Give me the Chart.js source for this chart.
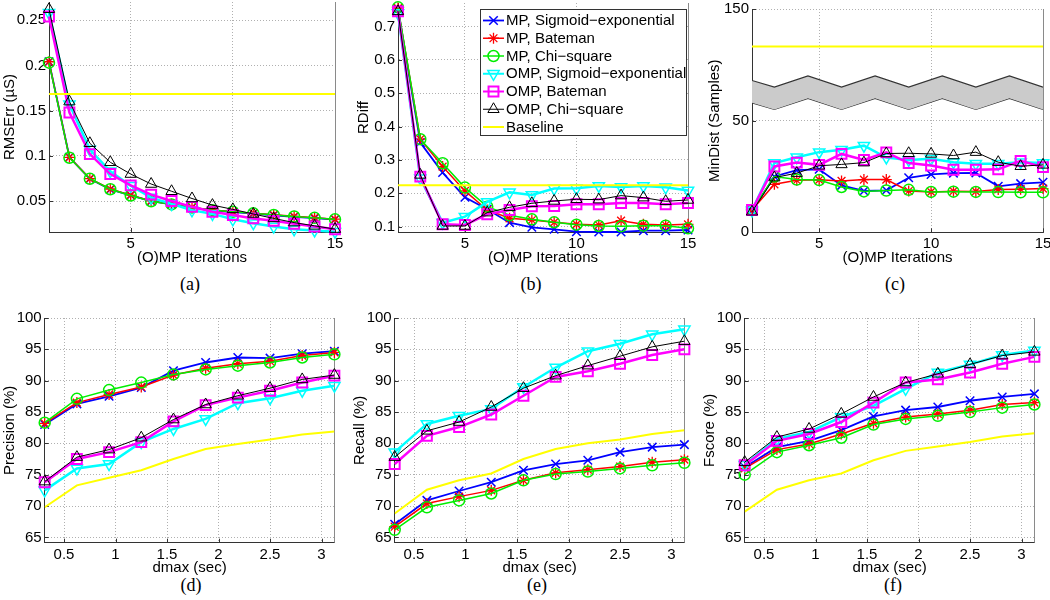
<!DOCTYPE html>
<html><head><meta charset="utf-8">
<script src="https://cdn.jsdelivr.net/npm/chart.js@4.4.1/dist/chart.umd.min.js"></script>
<style>
html,body{margin:0;padding:0;width:1050px;height:600px;overflow:hidden;background:#fff;position:relative}
canvas{position:absolute}
.cap{position:absolute;font-family:"Liberation Serif","Times New Roman",serif;font-size:18px;transform:translate(-50%,-50%);white-space:nowrap;color:#000}
</style></head><body>
<div class="cap" style="left:190px;top:284px">(a)</div>
<div class="cap" style="left:531px;top:284px">(b)</div>
<div class="cap" style="left:895px;top:284px">(c)</div>
<div class="cap" style="left:191px;top:585px">(d)</div>
<div class="cap" style="left:537px;top:585px">(e)</div>
<div class="cap" style="left:893px;top:585px">(f)</div>
<script>
// ---------------- DATA ----------------
const seriesLabels = ['MP, Sigmoid\u2212exponential','MP, Bateman','MP, Chi\u2212square','OMP, Sigmoid\u2212exponential','OMP, Bateman','OMP, Chi\u2212square'];
const baselineLabel = 'Baseline';

const iterA = [1,2,3,4,5,6,7,8,9,10,11,12,13,14,15];
const iterBC = [2,3,4,5,6,7,8,9,10,11,12,13,14,15];
const dmax = [0.3125,0.625,0.9375,1.25,1.5625,1.875,2.1875,2.5,2.8125,3.125];

// (a) RMSErr
const rmseMPSig  = [0.204,0.0985,0.0748,0.063,0.0565,0.050,0.0465,0.043,0.040,0.038,0.0363,0.0345,0.0328,0.0313,0.0298];
const rmseMPBat  = [0.204,0.0985,0.075,0.0635,0.0567,0.0503,0.0467,0.0432,0.0403,0.0385,0.0367,0.035,0.0333,0.0318,0.0302];
const rmseMPChi  = [0.203,0.098,0.0748,0.0632,0.0563,0.0500,0.0465,0.0430,0.0401,0.0384,0.0366,0.0348,0.0331,0.0316,0.0300];
const rmseOMPSig = [0.258,0.157,0.107,0.083,0.067,0.054,0.047,0.040,0.036,0.030,0.0257,0.022,0.019,0.0177,0.0163];
const rmseOMPBat = [0.254,0.148,0.102,0.080,0.0675,0.0573,0.0503,0.0438,0.0384,0.0348,0.031,0.0283,0.025,0.022,0.019];
const rmseOMPChi = [0.262,0.160,0.114,0.093,0.080,0.069,0.061,0.053,0.0457,0.041,0.0359,0.031,0.0264,0.0228,0.0192];
const rmseBaseline = 0.1685;

// (b) RDiff
const rdiffMPSig  = [0.752,0.352,0.262,0.188,0.152,0.112,0.098,0.092,0.085,0.084,0.084,0.088,0.088,0.090];
const rdiffMPBat  = [0.755,0.362,0.28,0.207,0.15,0.125,0.12,0.113,0.107,0.105,0.118,0.107,0.105,0.107];
const rdiffMPChi  = [0.757,0.362,0.29,0.217,0.16,0.134,0.122,0.113,0.106,0.102,0.101,0.103,0.103,0.095];
const rdiffOMPSig = [0.74,0.245,0.112,0.13,0.174,0.203,0.195,0.214,0.215,0.222,0.219,0.222,0.218,0.208];
const rdiffOMPBat = [0.745,0.25,0.107,0.105,0.137,0.15,0.161,0.162,0.167,0.167,0.171,0.171,0.167,0.171];
const rdiffOMPChi = [0.745,0.255,0.102,0.102,0.142,0.158,0.17,0.177,0.182,0.181,0.193,0.187,0.176,0.18];
const rdiffBaseline = 0.224;

// (c) MinDist (axis is broken above 50: shown value 100 is labelled 150)
const minMPSig  = [9.5,25,27.8,28.2,21,18.5,18.8,24.4,25.9,26.5,26.6,20.6,21.8,22.4];
const minMPBat  = [10,21.5,23.3,23.5,23,23.6,23.6,18.5,18.1,18.4,18.3,19.2,19.3,19.6];
const minMPChi  = [10,25,23.6,23.4,20.3,18.3,18.7,19,18.1,18.2,18.1,18,17.9,17.9];
const minOMPSig = [9.8,31,33.6,35.9,37,38.8,33.5,32.4,32.9,31.4,30.7,30.7,31.4,31];
const minOMPBat = [10,29.5,31.2,30.2,35.1,32.4,35.8,31,29.9,28,28,28.2,32,29.2];
const minOMPChi = [9.2,24.5,26.5,29.8,30.4,31.2,35.3,35.4,35.1,34.4,35.9,31.4,29.6,30.2];
const minBaseline = 83.2;
const breakX    = [2,3,4.5,6,7.5,9,10.5,12,13.5,15];
const breakLow  = [58,55,60,55,60,55,60,55,60,55];
const breakHigh = [68,65,70,65,70,65,70,65,70,65];

// (d) Precision
const precMPSig  = [83.0,86.3,87.5,88.9,91.6,92.9,93.7,93.6,94.3,94.7];
const precMPBat  = [83.2,86.5,87.8,89.0,90.9,92.0,92.7,93.1,94.0,94.5];
const precMPChi  = [83.3,87.1,88.5,89.7,91.0,91.8,92.4,92.9,93.7,94.2];
const precOMPSig = [72.5,76.0,76.7,80.2,82.3,83.9,86.4,87.2,88.4,89.2];
const precOMPBat = [73.8,77.5,78.6,80.2,83.5,86.1,87.3,88.4,89.7,90.8];
const precOMPChi = [73.9,77.8,79.0,80.9,83.8,86.2,87.6,88.8,90.2,90.9];
const precBaseline = [69.8,73.3,74.5,75.7,77.5,79.1,79.9,80.6,81.4,81.9];

// (e) Recall
const recMPSig  = [67.1,70.9,72.4,73.8,75.7,76.7,77.3,78.6,79.4,79.8];
const recMPBat  = [66.7,70.4,71.5,72.5,74.1,75.3,75.8,76.3,77.0,77.4];
const recMPChi  = [66.2,69.8,70.9,72.0,74.1,75.1,75.5,76.0,76.5,76.9];
const recOMPSig = [78.6,83.1,84.4,85.5,89.0,92.1,94.7,95.9,97.4,98.2];
const recOMPBat = [76.7,81.2,82.6,84.6,87.6,90.6,91.5,92.7,94.1,95.0];
const recOMPChi = [77.8,82.0,83.4,85.8,88.8,90.8,92.4,93.9,95.4,96.3];
const recBaseline = [68.8,72.6,74.1,75.2,77.5,79.1,80.0,80.6,81.5,82.1];

// (f) Fscore
const fMPSig  = [76.2,79.4,80.4,82.1,84.3,85.3,85.8,86.8,87.4,87.9];
const fMPBat  = [76.0,79.0,79.9,81.5,83.2,84.2,84.7,85.3,86.2,86.5];
const fMPChi  = [75.0,78.6,79.7,80.9,83.0,83.9,84.4,85.0,85.7,86.2];
const fOMPSig = [76.6,80.7,81.8,84.2,86.0,88.7,91.3,92.6,94.1,94.8];
const fOMPBat = [76.5,80.4,81.5,83.4,86.5,89.7,90.2,91.3,92.7,93.8];
const fOMPChi = [77.0,81.0,82.3,84.7,87.4,89.7,91.1,92.6,94.0,94.6];
const fBaseline = [69.1,72.6,74.1,75.2,77.3,78.8,79.5,80.2,81.1,81.6];

// tick values / labels
const iterTicks = [5,10,15];
const iterTickLabels = ['5','10','15'];
const rmseTicks = [0.05,0.1,0.15,0.2,0.25];
const rmseTickLabels = ['0.05','0.1','0.15','0.2','0.25'];
const rdiffTicks = [0.1,0.2,0.3,0.4,0.5,0.6,0.7];
const rdiffTickLabels = ['0.1','0.2','0.3','0.4','0.5','0.6','0.7'];
const minTicks = [0,50,100];
const minTickLabels = ['0','50','150'];
const pctTicks = [65,70,75,80,85,90,95,100];
const pctTickLabels = ['65','70','75','80','85','90','95','100'];
const dmaxTicks = [0.5,1,1.5,2,2.5,3];
const dmaxTickLabels = ['0.5','1','1.5','2','2.5','3'];

// ---------------- STYLE ----------------
const FONT = '"Liberation Sans", Arial, Helvetica, sans-serif';
Chart.defaults.font.family = FONT;
Chart.defaults.font.size = 15;
Chart.defaults.color = '#000';

const STYLES = [
  {color:'#0000ff', pointStyle:'crossRot', rotation:0,   radius:6,   lw:1.8, pbw:1.5},
  {color:'#ff0000', pointStyle:'star',     rotation:0,   radius:5.5, lw:1.5, pbw:1.3},
  {color:'#00ee00', pointStyle:'circle',   rotation:0,   radius:5.5, lw:1.5, pbw:1.5},
  {color:'#00ffff', pointStyle:'triangle', rotation:180, radius:6.5, lw:2.5, pbw:1.5},
  {color:'#ff00ff', pointStyle:'rect',     rotation:0,   radius:7,   lw:2.5, pbw:2},
  {color:'#000000', pointStyle:'triangle', rotation:0,   radius:6.5, lw:1,   pbw:1}
];
const BASE_STYLE = {color:'#ffff00', lw:2};

function seriesDS(idx, xs, ys) {
  const s = STYLES[idx];
  return {
    label: seriesLabels[idx],
    data: xs.map((x,i)=>({x:x, y:ys[i]})),
    borderColor: s.color, backgroundColor: 'rgba(0,0,0,0)', borderWidth: s.lw,
    pointStyle: s.pointStyle, pointRotation: s.rotation, pointRadius: s.radius, pointHoverRadius: s.radius,
    pointBorderWidth: s.pbw, pointBorderColor: s.color, pointBackgroundColor: 'rgba(0,0,0,0)',
    tension: 0, fill: false, clip: false, order: 10 - idx
  };
}
function baselineDS(xs, ys) {
  return {
    label: baselineLabel, data: xs.map((x,i)=>({x:x, y:ys[i]})),
    borderColor: BASE_STYLE.color, borderWidth: BASE_STYLE.lw, pointRadius: 0, pointHoverRadius: 0,
    tension: 0, fill: false, order: 0
  };
}
function constBaseline(xs, v) { return baselineDS([xs[0], xs[xs.length-1]], [v, v]); }

function makePanel(cfg) {
  const left = Math.floor(cfg.yTitleX - 9);
  const top = Math.floor(cfg.T - 10);
  const W = cfg.L - left;
  const H = cfg.xTitleY - cfg.B + 9;
  const width = Math.ceil(cfg.R - left + 16);
  const height = Math.ceil(cfg.B - top + H);
  const cv = document.createElement('canvas');
  cv.width = width; cv.height = height;
  cv.style.left = left + 'px'; cv.style.top = top + 'px';
  cv.style.width = width + 'px'; cv.style.height = height + 'px';
  document.body.appendChild(cv);

  const framePlugin = {
    id: 'frame',
    beforeDatasetsDraw(chart) {
      const {ctx, chartArea: a, scales} = chart;
      ctx.save();
      ctx.setLineDash([]);
      ctx.strokeStyle = '#8a8a8a'; ctx.lineWidth = 1;
      const rx = Math.round(a.right) + 0.5;
      ctx.beginPath(); ctx.moveTo(rx, a.top); ctx.lineTo(rx, a.bottom); ctx.stroke();
      ctx.strokeStyle = '#333';
      ctx.beginPath();
      scales.x.ticks.forEach(t => {
        const px = Math.round(scales.x.getPixelForValue(t.value)) + 0.5;
        ctx.moveTo(px, a.bottom); ctx.lineTo(px, a.bottom - 4);
      });
      scales.y.ticks.forEach(t => {
        const py = Math.round(scales.y.getPixelForValue(t.value)) + 0.5;
        ctx.moveTo(a.left, py); ctx.lineTo(a.left + 4, py);
      });
      ctx.stroke();
      ctx.restore();
    }
  };
  const plugins = [framePlugin];

  if (cfg.legend) {
    const lg = cfg.legend;
    plugins.push({
      id: 'mlegend',
      afterDraw(chart) {
        const ctx = chart.ctx;
        ctx.save();
        ctx.setLineDash([]);
        const bx = Math.round(lg.x - left) + 0.5, by = Math.round(lg.y - top) + 0.5;
        ctx.fillStyle = '#fff';
        ctx.fillRect(bx, by, lg.w, lg.h);
        ctx.strokeStyle = '#333'; ctx.lineWidth = 1;
        ctx.strokeRect(bx, by, lg.w, lg.h);
        lg.items.forEach((it, i) => {
          const y = lg.y0 + i * lg.dy - top;
          ctx.strokeStyle = it.color; ctx.lineWidth = Math.min(it.lw, 2);
          ctx.beginPath(); ctx.moveTo(lg.lx0 - left, y); ctx.lineTo(lg.lx1 - left, y); ctx.stroke();
          if (it.pointStyle) {
            ctx.lineWidth = it.pbw; ctx.fillStyle = 'rgba(0,0,0,0)';
            Chart.helpers.drawPoint(ctx, {pointStyle: it.pointStyle, rotation: it.rotation, radius: it.radius, borderWidth: it.pbw},
              (lg.lx0 + lg.lx1) / 2 - left, y);
          }
          ctx.fillStyle = '#000'; ctx.font = '15px ' + FONT;
          ctx.textBaseline = 'middle'; ctx.textAlign = 'left';
          ctx.fillText(it.text, lg.tx - left, y + 0.5);
        });
        ctx.restore();
      }
    });
  }

  const lab = (vals, labels) => (v) => { const i = vals.indexOf(v); return i >= 0 ? labels[i] : ''; };

  new Chart(cv, {
    type: 'line',
    data: { datasets: cfg.datasets },
    plugins: plugins,
    options: {
      responsive: false, animation: false, devicePixelRatio: 1, events: [],
      layout: { padding: { left: 0, top: cfg.T - top, right: width - (cfg.R - left), bottom: height - (cfg.B - top) - H } },
      plugins: { legend: { display: false }, tooltip: { enabled: false } },
      scales: {
        x: {
          type: 'linear', min: cfg.xmin, max: cfg.xmax,
          afterFit: s => { s.height = H; },
          afterBuildTicks: s => { s.ticks = cfg.xTicks.map(v => ({value: v})); },
          ticks: { callback: lab(cfg.xTicks, cfg.xTickLabels), padding: 3, maxRotation: 0, autoSkip: false, color: '#000', font: {size: 15} },
          grid: { color: '#b0b0b0', lineWidth: 1, drawTicks: false },
          border: { display: true, color: '#333', width: 1, dash: [1, 2] },
          title: { display: true, text: cfg.xTitle, padding: 0, color: '#000', font: {size: 15} }
        },
        y: {
          type: 'linear', min: cfg.ymin, max: cfg.ymax,
          afterFit: s => { s.width = W; },
          afterBuildTicks: s => { s.ticks = cfg.yTicks.map(v => ({value: v})); },
          ticks: { callback: lab(cfg.yTicks, cfg.yTickLabels), padding: 3, autoSkip: false, color: '#000', font: {size: 15} },
          grid: { color: '#b0b0b0', lineWidth: 1, drawTicks: false },
          border: { display: true, color: '#333', width: 1, dash: [1, 2] },
          title: { display: true, text: cfg.yTitle, padding: 0, color: '#000', font: {size: 15} }
        }
      }
    }
  });
}

function sixSeries(xs, arrs) { return arrs.map((ys, i) => seriesDS(i, xs, ys)); }

const legendItems = seriesLabels.map((t, i) => Object.assign({text: t}, STYLES[i]))
  .concat([{text: baselineLabel, color: BASE_STYLE.color, lw: BASE_STYLE.lw}]);

// (a)
makePanel({
  L: 49, R: 335, T: 0.3, B: 232, yTitleX: 10, xTitleY: 258,
  xmin: 1, xmax: 15, ymin: 0.016, ymax: 0.27,
  xTicks: iterTicks, xTickLabels: iterTickLabels, yTicks: rmseTicks, yTickLabels: rmseTickLabels,
  xTitle: '(O)MP Iterations', yTitle: 'RMSErr (\u00b5S)',
  datasets: sixSeries(iterA, [rmseMPSig, rmseMPBat, rmseMPChi, rmseOMPSig, rmseOMPBat, rmseOMPChi]).concat([constBaseline(iterA, rmseBaseline)])
});
// (b)
makePanel({
  L: 398, R: 688, T: 1, B: 232, yTitleX: 364, xTitleY: 258,
  xmin: 2, xmax: 15, ymin: 0.084, ymax: 0.77,
  xTicks: iterTicks, xTickLabels: iterTickLabels, yTicks: rdiffTicks, yTickLabels: rdiffTickLabels,
  xTitle: '(O)MP Iterations', yTitle: 'RDiff',
  datasets: sixSeries(iterBC, [rdiffMPSig, rdiffMPBat, rdiffMPChi, rdiffOMPSig, rdiffOMPBat, rdiffOMPChi]).concat([constBaseline(iterBC, rdiffBaseline)]),
  legend: { x: 480, y: 8.5, w: 206, h: 126, y0: 20.5, dy: 17.75, lx0: 483, lx1: 504, tx: 506, items: legendItems }
});
// (c)
const bandDS = [
  { label: 'break-low', data: breakX.map((x,i)=>({x:x, y:breakLow[i]})), borderColor: '#333', borderWidth: 1.2, pointRadius: 0, pointHoverRadius: 0, tension: 0, fill: false, order: 21 },
  { label: 'break-high', data: breakX.map((x,i)=>({x:x, y:breakHigh[i]})), borderColor: '#333', borderWidth: 1.2, pointRadius: 0, pointHoverRadius: 0, tension: 0, fill: '-1', backgroundColor: '#cbcbcb', order: 20 }
];
makePanel({
  L: 752, R: 1043, T: 7.3, B: 232.3, yTitleX: 715, xTitleY: 258,
  xmin: 2, xmax: 15, ymin: 0, ymax: 100,
  xTicks: iterTicks, xTickLabels: iterTickLabels, yTicks: minTicks, yTickLabels: minTickLabels,
  xTitle: '(O)MP Iterations', yTitle: 'MinDist (Samples)',
  datasets: bandDS.concat(sixSeries(iterBC, [minMPSig, minMPBat, minMPChi, minOMPSig, minOMPBat, minOMPChi])).concat([constBaseline(iterBC, minBaseline)])
});
// (d)
makePanel({
  L: 44.7, R: 334.4, T: 316.7, B: 542.7, yTitleX: 10.5, xTitleY: 568,
  xmin: 0.3125, xmax: 3.125, ymin: 64.15, ymax: 100,
  xTicks: dmaxTicks, xTickLabels: dmaxTickLabels, yTicks: pctTicks, yTickLabels: pctTickLabels,
  xTitle: 'dmax (sec)', yTitle: 'Precision (%)',
  datasets: sixSeries(dmax, [precMPSig, precMPBat, precMPChi, precOMPSig, precOMPBat, precOMPChi]).concat([baselineDS(dmax, precBaseline)])
});
// (e)
makePanel({
  L: 394.7, R: 684.4, T: 316.7, B: 542.7, yTitleX: 360, xTitleY: 568,
  xmin: 0.3125, xmax: 3.125, ymin: 64.15, ymax: 100,
  xTicks: dmaxTicks, xTickLabels: dmaxTickLabels, yTicks: pctTicks, yTickLabels: pctTickLabels,
  xTitle: 'dmax (sec)', yTitle: 'Recall (%)',
  datasets: sixSeries(dmax, [recMPSig, recMPBat, recMPChi, recOMPSig, recOMPBat, recOMPChi]).concat([baselineDS(dmax, recBaseline)])
});
// (f)
makePanel({
  L: 744.7, R: 1034.4, T: 316.7, B: 542.7, yTitleX: 710, xTitleY: 568,
  xmin: 0.3125, xmax: 3.125, ymin: 64.15, ymax: 100,
  xTicks: dmaxTicks, xTickLabels: dmaxTickLabels, yTicks: pctTicks, yTickLabels: pctTickLabels,
  xTitle: 'dmax (sec)', yTitle: 'Fscore (%)',
  datasets: sixSeries(dmax, [fMPSig, fMPBat, fMPChi, fOMPSig, fOMPBat, fOMPChi]).concat([baselineDS(dmax, fBaseline)])
});
</script>
</body></html>
